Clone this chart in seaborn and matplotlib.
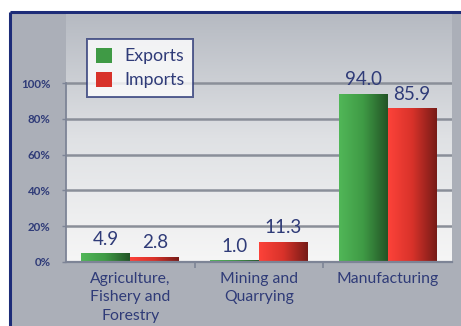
import numpy as np
import pandas as pd
import matplotlib
matplotlib.use("Agg")
import matplotlib.pyplot as plt
from matplotlib.colors import LinearSegmentedColormap, to_rgb
from matplotlib.patches import Patch, Rectangle
import seaborn as sns

# Share of trade by sector (%)
sectors = ["Agriculture,\nFishery and\nForestry", "Mining and\nQuarrying", "Manufacturing"]
exports = [4.9, 1.0, 94.0]
imports = [2.8, 11.3, 85.9]
series = ["Exports", "Imports"]
y_ticks = [0, 20, 40, 60, 80, 100]
y_tick_labels = ["0%", "20%", "40%", "60%", "80%", "100%"]

df = pd.DataFrame({
    "sector": sectors * 2,
    "share": exports + imports,
    "flow": [series[0]] * len(sectors) + [series[1]] * len(sectors),
})

NAVY = "#2f3b78"
GREEN = "#3f9a45"
RED = "#d8322a"
FIG_BG = "#abafb8"

sns.set_theme(style="white")
plt.rcParams["font.family"] = ["Lato", "DejaVu Sans"]

W, H = 461, 326
fig = plt.figure(figsize=(W / 100, H / 100), dpi=100, facecolor="white")

# grey panel with navy frame on top and left
panel = fig.add_axes([0, 0, 1, 1], zorder=-10)
panel.set_xlim(0, W)
panel.set_ylim(H, 0)
panel.axis("off")
panel.add_patch(Rectangle((10, 12), W - 10, H - 12, facecolor=FIG_BG, edgecolor="none"))
panel.plot([10, W], [12, 12], color="#1d2c78", lw=2.2, solid_capstyle="butt")
panel.plot([10, 10], [12, H], color="#1d2c78", lw=2.2, solid_capstyle="butt")

left, right, y0, ytop = 66, 452, 262, 14
ymax = (y0 - ytop) / 179 * 100
ax = fig.add_axes([left / W, 1 - y0 / H, (right - left) / W, (y0 - ytop) / H])
ax.set_facecolor("none")

sns.barplot(data=df, x="sector", y="share", hue="flow", order=sectors,
            hue_order=series, palette=[GREEN, RED], width=0.76,
            saturation=1, ax=ax, legend=False, zorder=3)

# plot-area background: grey at top fading to white at bottom
bg_cmap = LinearSegmentedColormap.from_list("bg", ["#f6f6f6", "#dfe1e4", "#b6bac2"])
grad = np.linspace(0, 1, 256).reshape(-1, 1)
ax.imshow(grad, extent=[-0.5, 2.5, 0, ymax], origin="lower", aspect="auto",
          cmap=bg_cmap, zorder=0)

# horizontal shading on each bar: light on the left, dark on the right
def shade(c):
    r, g, b = to_rgb(c)
    light = tuple(min(1, v * 1.12 + 0.04) for v in (r, g, b))
    dark = tuple(v * 0.55 for v in (r, g, b))
    return LinearSegmentedColormap.from_list("s", [light, c, dark])

for cont, col in zip(ax.containers, [GREEN, RED]):
    cm = shade(col)
    for bar in cont:
        x, y = bar.get_x(), bar.get_y()
        w, h = bar.get_width(), bar.get_height()
        im = ax.imshow(np.linspace(0, 1, 64).reshape(1, -1), extent=[x, x + w, y, y + h],
                       aspect="auto", cmap=cm, zorder=3)
        im.set_clip_path(bar)
        bar.set_facecolor("none")
        bar.set_edgecolor("none")
    ax.bar_label(cont, fmt="%.1f", padding=4, color=NAVY, fontsize=13.5, zorder=5)

ax.set_xlim(-0.5, 2.5)
ax.set_ylim(0, ymax)

# gridlines and axes
for t in y_ticks[1:]:
    ax.axhline(t, color="#8a8f99", lw=1.8, zorder=1)
ax.set_yticks(y_ticks)
ax.set_yticklabels(y_tick_labels)
ax.tick_params(axis="y", length=3, width=1, color="#7d8496", pad=8,
               labelsize=8.3, labelcolor=NAVY, left=True)
for lab in ax.get_yticklabels():
    lab.set_fontweight("bold")
ax.set_xticks(range(len(sectors)))
ax.set_xticklabels(sectors, linespacing=1.4)
ax.tick_params(axis="x", length=0, pad=7, labelsize=11.3, labelcolor=NAVY)
ax.set_xticks([0.5, 1.5], minor=True)
ax.tick_params(axis="x", which="minor", length=4, width=1.2, color="#7d8496",
               direction="out", bottom=True)
ax.set_xlabel("")
ax.set_ylabel("")

for s in ["top", "right"]:
    ax.spines[s].set_visible(False)
ax.spines["left"].set_bounds(0, 100)
ax.spines["left"].set_color("#7d8496")
ax.spines["left"].set_linewidth(1.3)
ax.spines["bottom"].set_color("#7d8496")
ax.spines["bottom"].set_linewidth(1.6)
ax.spines["left"].set_zorder(4)
ax.spines["bottom"].set_zorder(4)

handles = [Patch(facecolor=GREEN, edgecolor="none"), Patch(facecolor=RED, edgecolor="none")]
leg = fig.legend(handles, series, loc="upper left",
                 bbox_to_anchor=(87 / W, 1 - 39 / H), frameon=True, fancybox=False,
                 fontsize=12.8, handlelength=0.9, handleheight=0.9, handletextpad=0.7,
                 borderpad=0.5, labelspacing=0.42, borderaxespad=0)
leg.get_frame().set_edgecolor("#2f3b78")
leg.get_frame().set_linewidth(1.4)
leg.get_frame().set_facecolor("white")
for t in leg.get_texts():
    t.set_color(NAVY)

fig.savefig("out.png", dpi=100, facecolor=fig.get_facecolor())
